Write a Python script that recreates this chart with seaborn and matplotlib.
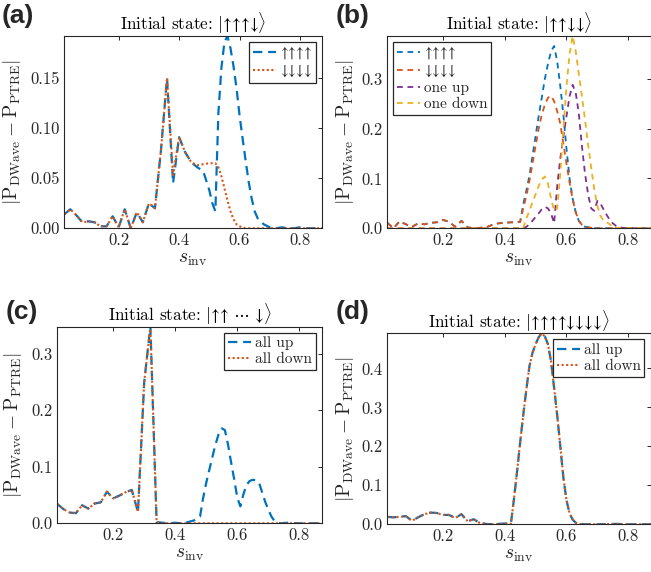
import matplotlib
matplotlib.use("Agg")
import matplotlib.pyplot as plt
import seaborn as sns
from matplotlib.ticker import FormatStrFormatter, FixedLocator

# ---------------- data ----------------
# (a) initial state |↑↑↑↓>
a_s = [0.02, 0.04, 0.06, 0.08, 0.10, 0.12, 0.14, 0.16, 0.18, 0.20, 0.22, 0.24, 0.26,
       0.28, 0.30, 0.32, 0.34, 0.36, 0.38, 0.40, 0.42, 0.44, 0.46, 0.48, 0.50,
       0.51, 0.52, 0.53, 0.54, 0.55, 0.56, 0.57, 0.58, 0.59, 0.60, 0.61, 0.62, 0.63,
       0.64, 0.65, 0.66, 0.68, 0.70, 0.72, 0.74, 0.76, 0.78, 0.80, 0.82, 0.84, 0.86, 0.88]
a_up = [0.014, 0.019, 0.013, 0.006, 0.007, 0.006, 0.002, 0.002, 0.012, 0.001, 0.019, 0.000, 0.016,
        0.006, 0.025, 0.020, 0.078, 0.150, 0.045, 0.091, 0.076, 0.066, 0.061, 0.057, 0.038,
        0.025, 0.017, 0.115, 0.160, 0.186, 0.192, 0.180, 0.162, 0.140, 0.113, 0.090, 0.068, 0.047,
        0.030, 0.017, 0.010, 0.004, 0.001, 0.000, 0.001, 0.000, 0.000, 0.001, 0.000, 0.000, 0.000, 0.000]
a_down = [0.014, 0.019, 0.013, 0.006, 0.007, 0.006, 0.002, 0.002, 0.012, 0.001, 0.019, 0.000, 0.016,
          0.006, 0.025, 0.020, 0.078, 0.150, 0.053, 0.091, 0.076, 0.066, 0.063, 0.064, 0.065,
          0.065, 0.065, 0.061, 0.052, 0.040, 0.028, 0.017, 0.009, 0.004, 0.002, 0.001, 0.000, 0.000,
          0.000, 0.000, 0.000, 0.000, 0.000, 0.000, 0.000, 0.000, 0.000, 0.000, 0.000, 0.000, 0.000, 0.000]

# (b) initial state |↑↑↓↓>
b_low_s = [0.02, 0.04, 0.06, 0.08, 0.10, 0.12, 0.14, 0.16, 0.18, 0.20, 0.22, 0.24,
           0.26, 0.28, 0.30, 0.32, 0.34, 0.36, 0.38, 0.40, 0.42, 0.44, 0.45]
b_low = [0.011, 0.000, 0.014, 0.008, 0.003, 0.010, 0.008, 0.011, 0.012, 0.017, 0.013, 0.003,
         0.015, 0.002, 0.000, 0.001, 0.002, 0.007, 0.010, 0.011, 0.012, 0.012, 0.013]
b_peak_s = [0.46, 0.47, 0.48, 0.49, 0.50, 0.51, 0.52, 0.53, 0.54, 0.55, 0.56, 0.57, 0.58,
            0.59, 0.60, 0.61, 0.62, 0.63, 0.64, 0.65, 0.66, 0.68, 0.70, 0.74, 0.78, 0.82, 0.88]
b_up_peak = [0.048, 0.075, 0.105, 0.145, 0.185, 0.225, 0.262, 0.300, 0.330, 0.355, 0.366, 0.335, 0.285,
             0.228, 0.160, 0.100, 0.060, 0.032, 0.015, 0.007, 0.003, 0.001, 0.000, 0.000, 0.001, 0.000, 0.000]
b_down_peak = [0.040, 0.065, 0.095, 0.130, 0.165, 0.200, 0.228, 0.248, 0.262, 0.266, 0.255, 0.235, 0.210,
               0.170, 0.130, 0.092, 0.058, 0.032, 0.015, 0.007, 0.003, 0.001, 0.000, 0.000, 0.001, 0.000, 0.000]
b_one_s = [0.02, 0.46, 0.47, 0.48, 0.49, 0.50, 0.51, 0.52, 0.53, 0.54, 0.55, 0.56, 0.57, 0.58,
           0.59, 0.60, 0.61, 0.62, 0.63, 0.64, 0.65, 0.66, 0.67, 0.68, 0.69, 0.70, 0.71,
           0.72, 0.73, 0.74, 0.75, 0.76, 0.78, 0.80, 0.88]
b_one_up = [0.000, 0.000, 0.003, 0.008, 0.015, 0.023, 0.030, 0.038, 0.043, 0.040, 0.030, 0.010, 0.085, 0.140,
            0.185, 0.225, 0.265, 0.288, 0.272, 0.230, 0.165, 0.110, 0.068, 0.040, 0.035, 0.055, 0.050,
            0.038, 0.027, 0.017, 0.010, 0.005, 0.001, 0.000, 0.000]
b_one_down = [0.000, 0.000, 0.020, 0.035, 0.052, 0.068, 0.085, 0.098, 0.104, 0.090, 0.060, 0.035, 0.040, 0.110,
              0.200, 0.285, 0.350, 0.386, 0.355, 0.310, 0.265, 0.218, 0.168, 0.122, 0.078, 0.045, 0.025,
              0.015, 0.012, 0.008, 0.003, 0.001, 0.000, 0.000, 0.000]

# (c) initial state |↑↑ ... ↓>
c_s = [0.02, 0.04, 0.06, 0.08, 0.10, 0.12, 0.14, 0.16, 0.18, 0.20, 0.22, 0.24, 0.26,
       0.28, 0.30, 0.32, 0.34, 0.36, 0.38, 0.40, 0.42, 0.44, 0.46, 0.48, 0.49, 0.50,
       0.51, 0.52, 0.53, 0.54, 0.55, 0.56, 0.57, 0.58, 0.59, 0.60, 0.61, 0.62, 0.63,
       0.64, 0.65, 0.66, 0.67, 0.68, 0.69, 0.70, 0.71, 0.72, 0.73, 0.74, 0.76, 0.80, 0.88]
c_up = [0.034, 0.025, 0.019, 0.018, 0.032, 0.026, 0.035, 0.037, 0.056, 0.044, 0.049, 0.055, 0.059,
        0.020, 0.250, 0.348, 0.002, 0.001, 0.000, 0.001, 0.000, 0.002, 0.005, 0.012, 0.045, 0.072,
        0.095, 0.118, 0.140, 0.158, 0.168, 0.165, 0.140, 0.108, 0.078, 0.045, 0.030, 0.052, 0.068,
        0.075, 0.077, 0.076, 0.072, 0.055, 0.038, 0.024, 0.012, 0.004, 0.001, 0.000, 0.001, 0.000, 0.000]
c_down = [0.034, 0.025, 0.019, 0.018, 0.032, 0.026, 0.035, 0.037, 0.056, 0.044, 0.049, 0.055, 0.059,
          0.020, 0.250, 0.348, 0.002, 0.000, 0.000, 0.000, 0.000, 0.000, 0.000, 0.000, 0.000, 0.000,
          0.000, 0.000, 0.000, 0.000, 0.000, 0.000, 0.000, 0.000, 0.000, 0.000, 0.000, 0.000, 0.000,
          0.000, 0.000, 0.000, 0.000, 0.000, 0.000, 0.000, 0.000, 0.000, 0.000, 0.000, 0.000, 0.000, 0.000]

# (d) initial state |↑↑↑↑↓↓↓↓>
d_s = [0.02, 0.04, 0.06, 0.08, 0.10, 0.12, 0.14, 0.16, 0.18, 0.20, 0.22, 0.24, 0.26,
       0.28, 0.30, 0.32, 0.34, 0.36, 0.38, 0.40, 0.42, 0.43, 0.44, 0.45, 0.46, 0.47,
       0.48, 0.49, 0.50, 0.51, 0.52, 0.53, 0.54, 0.55, 0.56, 0.57, 0.58, 0.59, 0.60,
       0.61, 0.62, 0.63, 0.64, 0.66, 0.70, 0.76, 0.80, 0.88]
d_up = [0.019, 0.018, 0.019, 0.021, 0.009, 0.018, 0.026, 0.030, 0.029, 0.024, 0.024, 0.016, 0.026,
        0.008, 0.013, 0.003, 0.001, 0.000, 0.001, 0.002, 0.001, 0.065, 0.135, 0.210, 0.280, 0.345,
        0.405, 0.440, 0.462, 0.480, 0.490, 0.482, 0.462, 0.418, 0.350, 0.280, 0.200, 0.120, 0.062,
        0.028, 0.012, 0.004, 0.001, 0.000, 0.000, 0.001, 0.000, 0.000]
d_down = list(d_up)

# ---------------- style ----------------
BLUE, ORANGE, PURPLE, YELLOW = "#0072BD", "#D95319", "#7E2F8E", "#EDB120"
INK = "#262626"

sns.set_theme(style="white")
plt.rcParams["font.family"] = ["cmr10", "DejaVu Serif"]
plt.rcParams["mathtext.fontset"] = "cm"
plt.rcParams["axes.formatter.use_mathtext"] = True
plt.rcParams["axes.unicode_minus"] = False

W, H = 651, 572
fig = plt.figure(figsize=(W / 100, H / 100), dpi=100)


def add_axes(l, t, r, b):
    return fig.add_axes([l / W, 1 - b / H, (r - l) / W, (b - t) / H])


ax_a = add_axes(64.3, 36.0, 321.7, 228.3)
ax_b = add_axes(387.3, 36.0, 650.5, 228.3)
ax_c = add_axes(57.3, 326.7, 321.7, 523.3)
ax_d = add_axes(387.3, 333.3, 650.5, 524.3)

DASH_WIDE = (0, (4.2, 2.6))
DASH_B = (0, (3.2, 2.6))
DOT = (0, (1.0, 1.2))

# spin arrows written as plain characters so they sit tightly together
UP = "↑"
DN = "↓"

# (a)
sns.lineplot(x=a_s, y=a_up, ax=ax_a, color=BLUE, lw=1.6, linestyle=DASH_WIDE,
             label="$" + UP * 4 + "$")
sns.lineplot(x=a_s, y=a_down, ax=ax_a, color=ORANGE, lw=1.5, linestyle=DOT,
             label="$" + DN * 4 + "$")

# (b)
sns.lineplot(x=b_low_s + b_peak_s, y=b_low + b_up_peak, ax=ax_b, color=BLUE, lw=1.3,
             linestyle=DASH_B, label="$" + UP * 4 + "$")
sns.lineplot(x=b_low_s + b_peak_s, y=b_low + b_down_peak, ax=ax_b, color=ORANGE, lw=1.3,
             linestyle=DASH_B, label="$" + DN * 4 + "$")
sns.lineplot(x=b_one_s, y=b_one_up, ax=ax_b, color=PURPLE, lw=1.3,
             linestyle=DASH_B, label="one up")
sns.lineplot(x=b_one_s, y=b_one_down, ax=ax_b, color=YELLOW, lw=1.3,
             linestyle=DASH_B, label="one down")

# (c)
sns.lineplot(x=c_s, y=c_up, ax=ax_c, color=BLUE, lw=1.6, linestyle=DASH_WIDE, label="all up")
sns.lineplot(x=c_s, y=c_down, ax=ax_c, color=ORANGE, lw=1.5, linestyle=DOT, label="all down")

# (d)
sns.lineplot(x=d_s, y=d_up, ax=ax_d, color=BLUE, lw=1.6, linestyle=DASH_WIDE, label="all up")
sns.lineplot(x=d_s, y=d_down, ax=ax_d, color=ORANGE, lw=1.5, linestyle=DOT, label="all down")

panels = [
    (ax_a, max(a_up + a_down), [0, 0.05, 0.10, 0.15], "%.2f",
     r"Initial state: $|" + UP * 3 + DN + r"\rangle$", "upper right", -0.159),
    (ax_b, max(b_up_peak + b_down_peak + b_one_up + b_one_down), [0, 0.1, 0.2, 0.3], "%.1f",
     r"Initial state: $|" + UP * 2 + DN * 2 + r"\rangle$", "upper left", -0.12),
    (ax_c, max(c_up + c_down), [0, 0.1, 0.2, 0.3], "%.1f",
     r"Initial state: $|" + UP * 2 + r"\ \cdots\ " + DN + r"\rangle$", "upper right", -0.125),
    (ax_d, max(d_up + d_down), [0, 0.1, 0.2, 0.3, 0.4], "%.1f",
     r"Initial state: $|" + UP * 4 + DN * 4 + r"\rangle$", "upper right", -0.12),
]

for ax, ytop, yt, fmt, title, loc, ylab_x in panels:
    ax.set_xlim(0.02, 0.872)
    ax.set_ylim(0, ytop)
    ax.xaxis.set_major_locator(FixedLocator([0.2, 0.4, 0.6, 0.8]))
    ax.yaxis.set_major_locator(FixedLocator(yt))
    ax.yaxis.set_major_formatter(FormatStrFormatter(fmt))
    ax.xaxis.set_major_formatter(FormatStrFormatter("%.1f"))
    ax.tick_params(direction="in", length=3.2, width=0.7, top=True, right=True,
                   labelsize=12, colors=INK, pad=3.5)
    for sp in ax.spines.values():
        sp.set_visible(True)
        sp.set_color(INK)
        sp.set_linewidth(0.8)
    ax.set_facecolor("white")
    ax.set_title(title, fontsize=12.4, color="black", pad=4)
    ax.set_xlabel(r"$s_{\mathrm{inv}}$", fontsize=14, color=INK, labelpad=1)
    ax.set_ylabel(r"$|\mathrm{P}_{\mathrm{DWave}} - \mathrm{P}_{\mathrm{PTRE}}|$",
                  fontsize=14, color=INK)
    ax.yaxis.set_label_coords(ylab_x, 0.5)
    handles, labels = ax.get_legend_handles_labels()
    leg = ax.legend(handles, labels, loc=loc, fontsize=11, frameon=True, fancybox=False,
                    framealpha=1, edgecolor=INK, borderpad=0.25, labelspacing=0.15,
                    handlelength=1.5, handletextpad=0.25, borderaxespad=0.4)
    leg.get_frame().set_linewidth(0.9)

for lbl, x, y in [("(a)", 2, 4), ("(b)", 336, 4), ("(c)", 6, 300), ("(d)", 336, 300)]:
    fig.text(x / W, 1 - y / H, lbl, ha="left", va="top", fontsize=19,
             fontweight="bold", family=["Liberation Sans", "DejaVu Sans"])

fig.savefig("out.png", dpi=100, facecolor="white")
